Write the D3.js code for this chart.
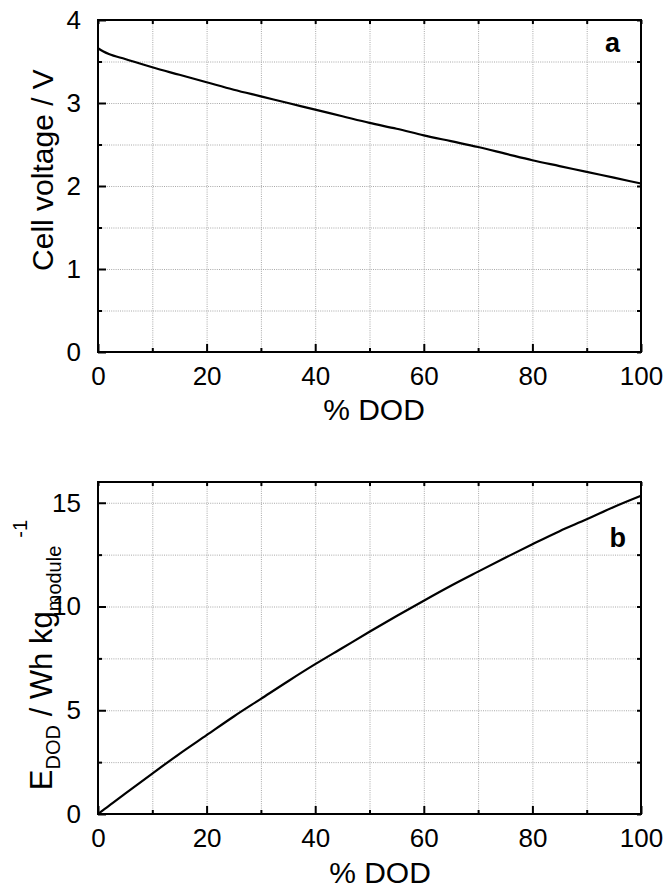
<!DOCTYPE html>
<html>
<head>
<meta charset="utf-8">
<script src="https://cdn.jsdelivr.net/npm/d3@7"></script>
<style>
  html, body { margin: 0; padding: 0; background: #fff; }
  svg { display: block; font-family: "Liberation Sans", Arial, sans-serif; }
</style>
</head>
<body>
<svg id="fig" width="666" height="890"></svg>
<script>
// Depth of discharge (%) sampled along both curves
const dod = [0, 1, 2, 5, 10, 15, 20, 25, 30, 35, 40, 45, 50, 55, 60, 65, 70, 75, 80, 85, 90, 95, 100];
// Panel a: cell voltage (V)
const cellVoltage = [3.66, 3.62, 3.59, 3.53, 3.43, 3.34, 3.25, 3.16, 3.08, 3.00, 2.92, 2.84, 2.76, 2.69, 2.61, 2.54, 2.47, 2.39, 2.31, 2.24, 2.17, 2.10, 2.03];
// Panel b: energy delivered (Wh per kg module)
const energyDod = [0, 0.2, 0.39, 0.98, 1.95, 2.90, 3.80, 4.70, 5.55, 6.40, 7.22, 8.00, 8.78, 9.54, 10.28, 11.00, 11.68, 12.35, 13.00, 13.63, 14.20, 14.80, 15.34];

// Tick values
const xTicks = [0, 20, 40, 60, 80, 100];
const xMinor = [10, 30, 50, 70, 90];
const yTicksA = [0, 1, 2, 3, 4];
const yMinorA = [0.5, 1.5, 2.5, 3.5];
const yTicksB = [0, 5, 10, 15];
const yMinorB = [2.5, 7.5, 12.5];

const svg = d3.select("#fig");
const left = 98, right = 641;

function panel(cfg) {
  const x = d3.scaleLinear().domain([0, 100]).range([left, right]);
  const y = d3.scaleLinear().domain(cfg.yDomain).range([cfg.bottom, cfg.top]);
  const g = svg.append("g");

  // dotted grid at major and minor positions
  const grid = g.append("g").attr("stroke", "#a8a8a8").attr("stroke-width", 1)
    .attr("stroke-dasharray", "1,1.2");
  grid.selectAll("line.gx").data(xTicks.concat(xMinor).filter(v => v > 0 && v < 100))
    .join("line").attr("x1", d => x(d) + 0.5).attr("x2", d => x(d) + 0.5)
    .attr("y1", cfg.top).attr("y2", cfg.bottom);
  grid.selectAll("line.gy").data(cfg.yTicks.concat(cfg.yMinor).filter(v => v > cfg.yDomain[0] && v < cfg.yDomain[1]))
    .join("line").attr("y1", d => y(d) + 0.5).attr("y2", d => y(d) + 0.5)
    .attr("x1", left).attr("x2", right);

  // axes with inward ticks (bottom/left), mirrored on top/right
  const major = 8, minor = 4;
  const axB = g.append("g").attr("transform", `translate(0,${cfg.bottom})`)
    .call(d3.axisBottom(x).tickValues(xTicks).tickSize(-major).tickPadding(major + 7).tickFormat(d3.format("d")));
  g.append("g").attr("transform", `translate(0,${cfg.bottom})`)
    .call(d3.axisBottom(x).tickValues(xMinor).tickSize(-minor).tickFormat(""));
  g.append("g").attr("transform", `translate(0,${cfg.top})`)
    .call(d3.axisTop(x).tickValues(xTicks).tickSize(-minor).tickFormat(""));
  g.append("g").attr("transform", `translate(0,${cfg.top})`)
    .call(d3.axisTop(x).tickValues(xMinor).tickSize(-minor).tickFormat(""));
  const axL = g.append("g").attr("transform", `translate(${left},0)`)
    .call(d3.axisLeft(y).tickValues(cfg.yTicks).tickSize(-major).tickPadding(major + 9).tickFormat(d3.format("d")));
  g.append("g").attr("transform", `translate(${left},0)`)
    .call(d3.axisLeft(y).tickValues(cfg.yMinor).tickSize(-minor).tickFormat(""));
  g.append("g").attr("transform", `translate(${right},0)`)
    .call(d3.axisRight(y).tickValues(cfg.yTicks).tickSize(-minor).tickFormat(""));
  g.append("g").attr("transform", `translate(${right},0)`)
    .call(d3.axisRight(y).tickValues(cfg.yMinor).tickSize(-minor).tickFormat(""));

  g.selectAll(".domain").remove();
  g.selectAll(".tick line").attr("stroke", "#000").attr("stroke-width", 2);
  g.selectAll(".tick text").attr("fill", "#000").attr("font-size", 26)
    .attr("font-family", "'Liberation Sans', Arial, sans-serif");
  axB.selectAll(".tick text").attr("dy", "0.71em");

  // frame
  g.append("rect").attr("x", left).attr("y", cfg.top)
    .attr("width", right - left).attr("height", cfg.bottom - cfg.top)
    .attr("fill", "none").attr("stroke", "#000").attr("stroke-width", 2);

  // curve
  const line = d3.line().x((d, i) => x(dod[i])).y(d => y(d)).curve(d3.curveMonotoneX);
  g.append("path").datum(cfg.values).attr("d", line)
    .attr("fill", "none").attr("stroke", "#000").attr("stroke-width", 2.2);

  // panel letter
  g.append("text").attr("x", cfg.letterX).attr("y", cfg.letterY)
    .attr("text-anchor", "end").attr("font-size", 27).attr("font-weight", "bold")
    .text(cfg.letter);

  // x title
  g.append("text").attr("x", cfg.xTitleX).attr("y", cfg.xTitleY)
    .attr("text-anchor", "middle").attr("font-size", 30).text("% DOD");
  return { x, y, g };
}

const a = panel({
  top: 20, bottom: 352, yDomain: [0, 4], yTicks: yTicksA, yMinor: yMinorA,
  values: cellVoltage, letter: "a", letterX: 620, letterY: 52, xTitleX: 374, xTitleY: 420
});
a.g.append("text").attr("transform", "translate(53,170) rotate(-90)")
  .attr("text-anchor", "middle").attr("font-size", 30).text("Cell voltage / V");

const b = panel({
  top: 482, bottom: 814, yDomain: [0, 16], yTicks: yTicksB, yMinor: yMinorB,
  values: energyDod, letter: "b", letterX: 626, letterY: 547, xTitleX: 380, xTitleY: 883
});
const yt = b.g.append("text").attr("transform", "translate(52,655) rotate(-90)")
  .attr("text-anchor", "middle").attr("font-size", 31);
yt.append("tspan").text("E");
yt.append("tspan").attr("font-size", 20).attr("dy", 8).text("DOD");
yt.append("tspan").attr("dy", -8).text(" / Wh kg");
yt.append("tspan").attr("font-size", 20).attr("dy", 9).text("module");
yt.append("tspan").attr("font-size", 20).attr("dy", -34).attr("dx", 8).text("-1");
</script>
</body>
</html>
